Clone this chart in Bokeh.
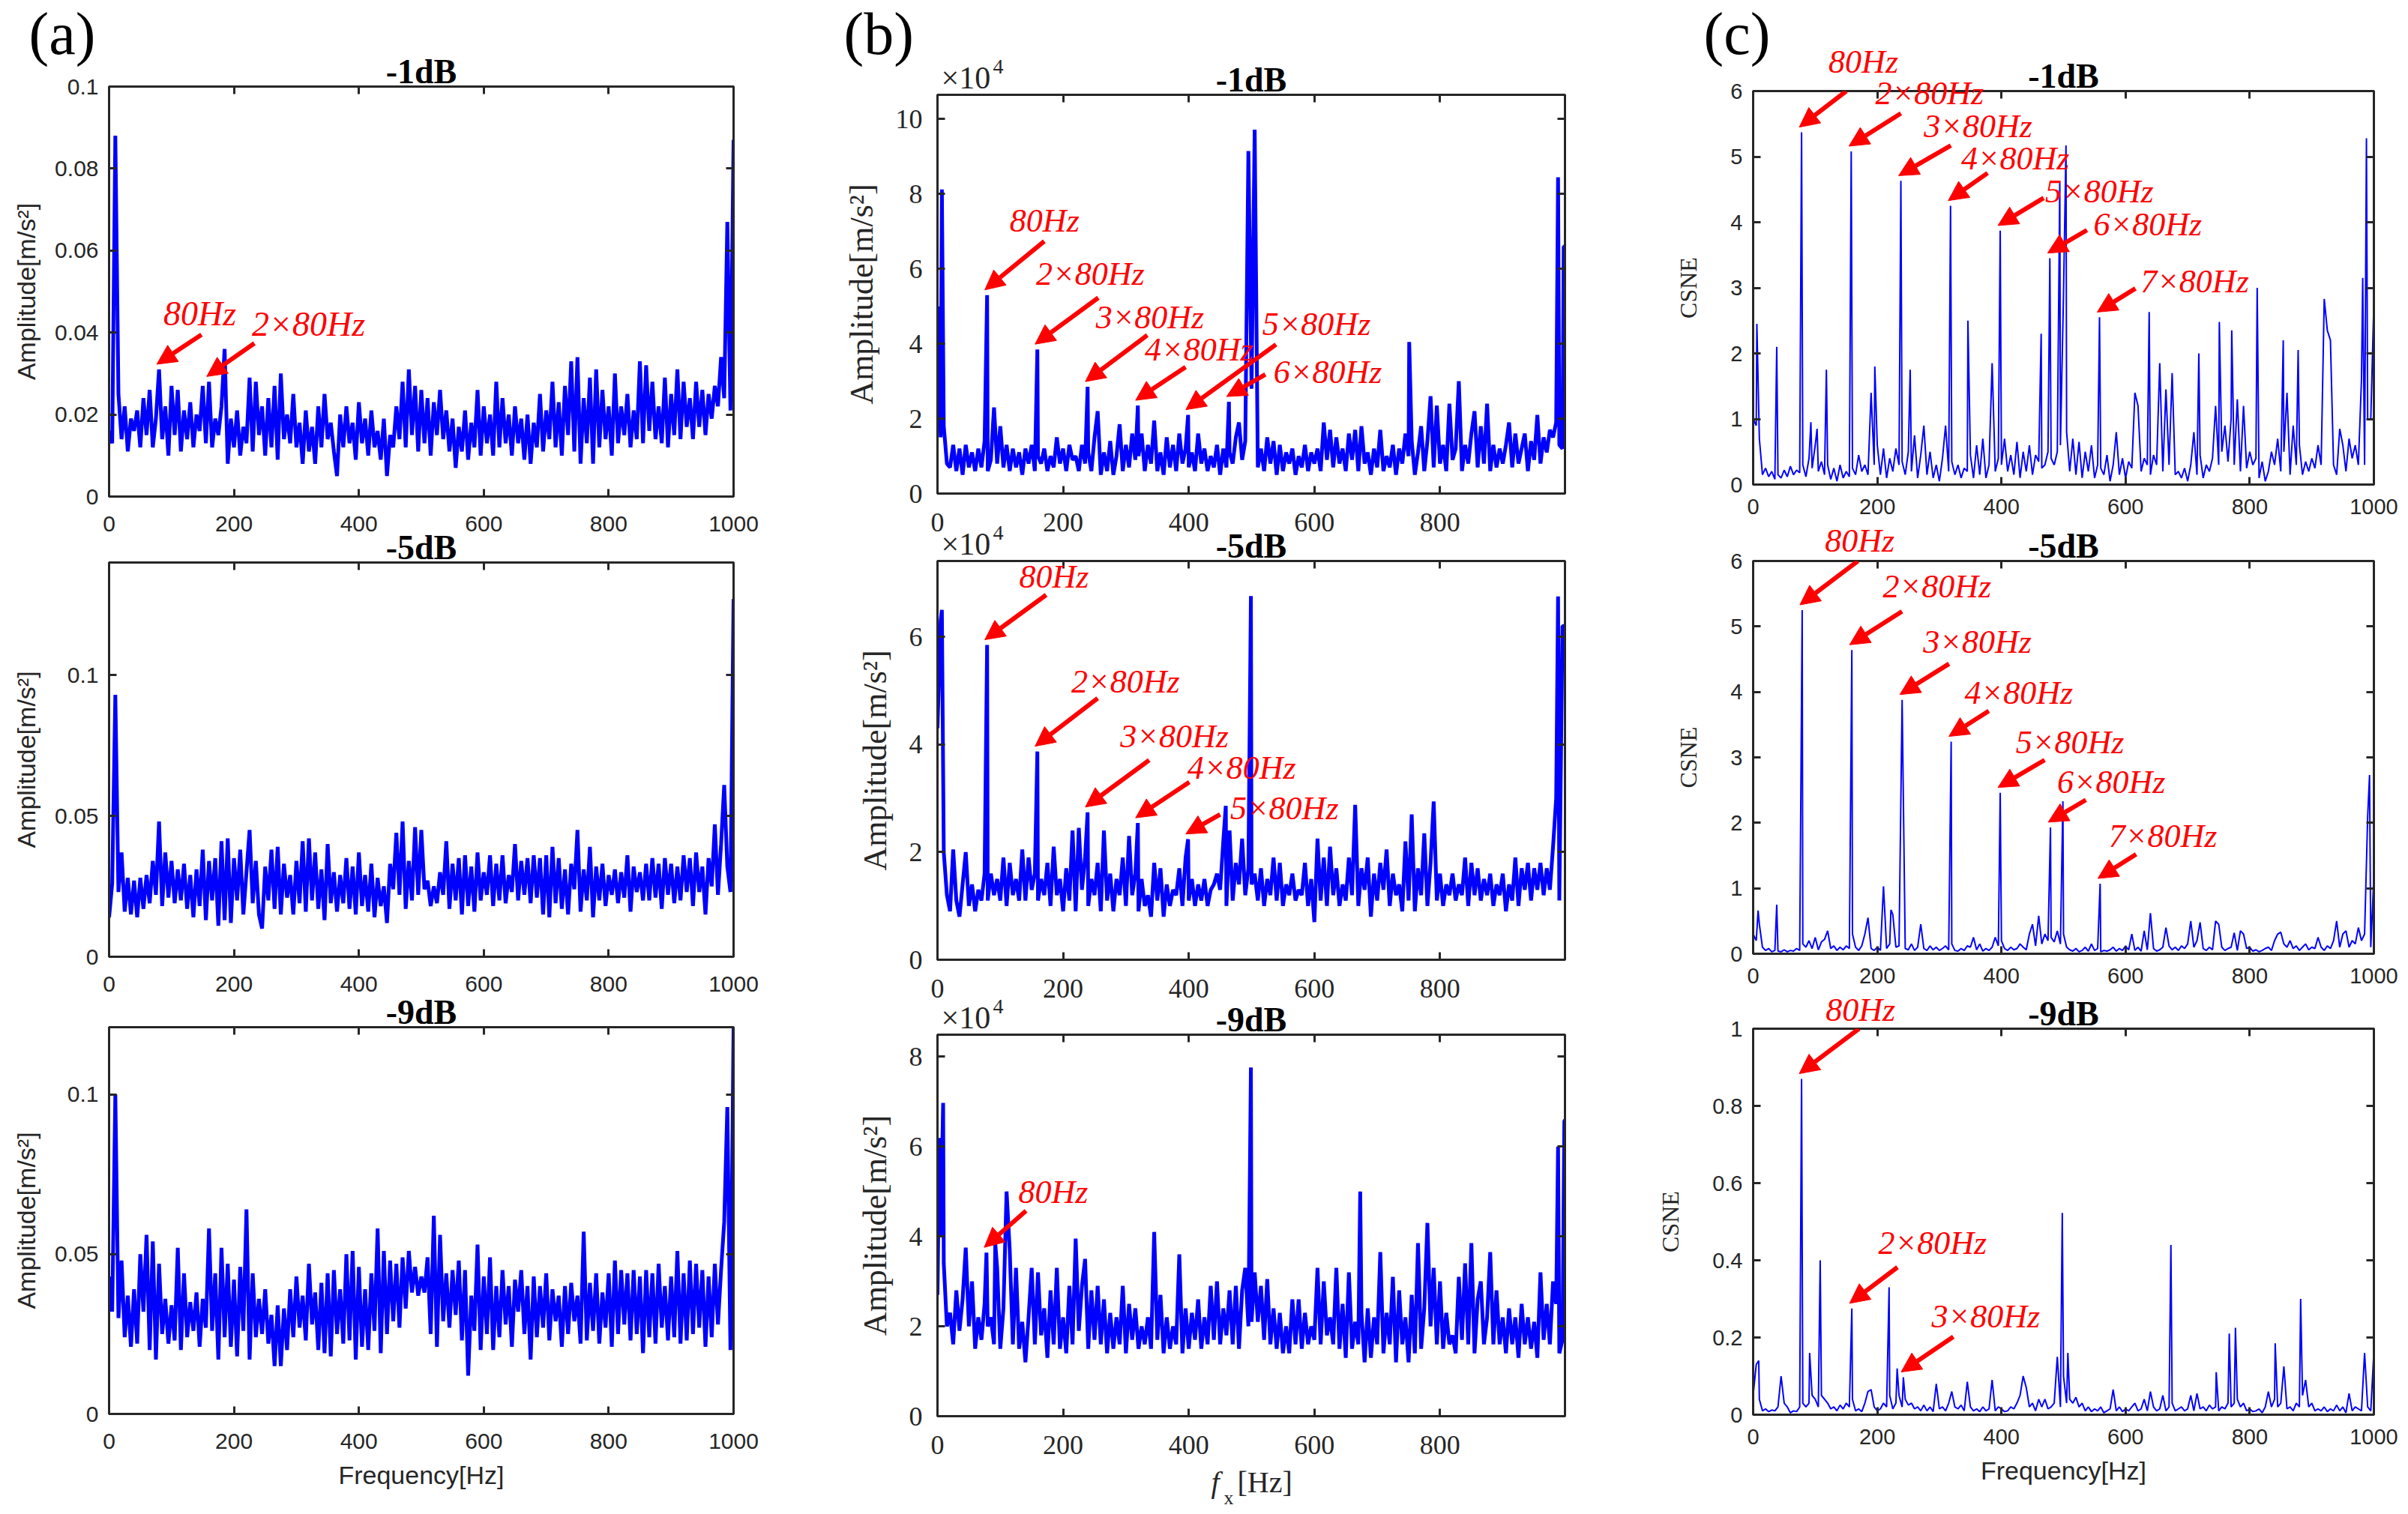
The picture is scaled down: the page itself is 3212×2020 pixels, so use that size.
from bokeh.embed import file_html
from bokeh.layouts import column, row
from bokeh.models import (Arrow, FixedTicker, Label, LinearAxis, NormalHead,
                          NumeralTickFormatter, Range1d)
from bokeh.plotting import figure
from bokeh.resources import INLINE

# ---------------- data ----------------
freq_5hz = list(range(0, 1001, 5))

# (a) raw spectrum amplitudes [m/s^2], one value every 5 Hz
a1_amp = [
    0.016, 0.013, 0.088, 0.025, 0.014, 0.022, 0.011, 0.019, 0.016, 0.021,
    0.012, 0.024, 0.015, 0.026, 0.012, 0.019, 0.031, 0.014, 0.022, 0.010,
    0.027, 0.015, 0.026, 0.011, 0.021, 0.014, 0.023, 0.012, 0.020, 0.016,
    0.027, 0.013, 0.028, 0.012, 0.019, 0.015, 0.022, 0.036, 0.008, 0.019,
    0.012, 0.021, 0.010, 0.017, 0.013, 0.029, 0.011, 0.028, 0.015, 0.022,
    0.010, 0.024, 0.012, 0.027, 0.009, 0.030, 0.014, 0.020, 0.013, 0.025,
    0.012, 0.018, 0.008, 0.021, 0.011, 0.017, 0.008, 0.022, 0.012, 0.025,
    0.014, 0.018, 0.011, 0.005, 0.020, 0.012, 0.022, 0.013, 0.018, 0.009,
    0.023, 0.013, 0.019, 0.010, 0.021, 0.012, 0.016, 0.009, 0.019, 0.005,
    0.015, 0.012, 0.022, 0.014, 0.028, 0.012, 0.031, 0.015, 0.027, 0.011,
    0.026, 0.013, 0.024, 0.010, 0.023, 0.015, 0.026, 0.014, 0.021, 0.011,
    0.019, 0.007, 0.017, 0.011, 0.021, 0.009, 0.018, 0.012, 0.026, 0.010,
    0.022, 0.013, 0.020, 0.010, 0.028, 0.012, 0.024, 0.013, 0.020, 0.010,
    0.022, 0.013, 0.019, 0.009, 0.020, 0.008, 0.018, 0.012, 0.025, 0.011,
    0.021, 0.014, 0.028, 0.012, 0.023, 0.010, 0.027, 0.015, 0.033, 0.011,
    0.034, 0.008, 0.024, 0.013, 0.029, 0.008, 0.031, 0.012, 0.026, 0.014,
    0.022, 0.010, 0.030, 0.013, 0.022, 0.015, 0.025, 0.012, 0.021, 0.014,
    0.033, 0.013, 0.032, 0.016, 0.028, 0.014, 0.022, 0.013, 0.029, 0.012,
    0.025, 0.015, 0.031, 0.014, 0.028, 0.017, 0.024, 0.014, 0.028, 0.017,
    0.026, 0.015, 0.025, 0.019, 0.027, 0.022, 0.034, 0.024, 0.067, 0.021,
    0.087]
a2_amp = [
    0.014, 0.026, 0.093, 0.023, 0.037, 0.016, 0.028, 0.015, 0.027, 0.014,
    0.028, 0.017, 0.029, 0.019, 0.034, 0.022, 0.048, 0.018, 0.037, 0.021,
    0.034, 0.019, 0.031, 0.020, 0.033, 0.017, 0.029, 0.014, 0.031, 0.018,
    0.038, 0.013, 0.034, 0.020, 0.035, 0.011, 0.041, 0.013, 0.042, 0.012,
    0.035, 0.020, 0.038, 0.015, 0.030, 0.045, 0.019, 0.034, 0.015, 0.010,
    0.032, 0.020, 0.038, 0.017, 0.039, 0.015, 0.033, 0.021, 0.029, 0.015,
    0.034, 0.019, 0.041, 0.016, 0.042, 0.020, 0.037, 0.017, 0.031, 0.013,
    0.040, 0.019, 0.030, 0.016, 0.029, 0.019, 0.035, 0.017, 0.032, 0.015,
    0.037, 0.018, 0.029, 0.016, 0.033, 0.014, 0.028, 0.018, 0.025, 0.012,
    0.033, 0.024, 0.044, 0.022, 0.048, 0.017, 0.034, 0.020, 0.046, 0.022,
    0.045, 0.024, 0.027, 0.018, 0.025, 0.019, 0.030, 0.022, 0.041, 0.017,
    0.033, 0.020, 0.035, 0.015, 0.036, 0.018, 0.032, 0.016, 0.037, 0.020,
    0.030, 0.022, 0.036, 0.018, 0.033, 0.020, 0.036, 0.019, 0.029, 0.023,
    0.040, 0.020, 0.034, 0.022, 0.035, 0.019, 0.036, 0.021, 0.035, 0.015,
    0.036, 0.014, 0.039, 0.019, 0.035, 0.017, 0.031, 0.015, 0.033, 0.024,
    0.045, 0.016, 0.031, 0.020, 0.039, 0.014, 0.032, 0.020, 0.033, 0.018,
    0.029, 0.022, 0.031, 0.019, 0.030, 0.021, 0.036, 0.016, 0.032, 0.023,
    0.030, 0.020, 0.033, 0.020, 0.035, 0.021, 0.033, 0.017, 0.035, 0.022,
    0.033, 0.019, 0.032, 0.020, 0.036, 0.023, 0.035, 0.018, 0.037, 0.023,
    0.032, 0.015, 0.035, 0.025, 0.047, 0.022, 0.040, 0.061, 0.032, 0.023,
    0.127]
a3_amp = [
    0.043, 0.032, 0.100, 0.030, 0.048, 0.024, 0.037, 0.021, 0.039, 0.022,
    0.050, 0.032, 0.056, 0.020, 0.054, 0.017, 0.047, 0.025, 0.036, 0.022,
    0.034, 0.023, 0.052, 0.020, 0.044, 0.024, 0.035, 0.026, 0.038, 0.021,
    0.036, 0.027, 0.058, 0.026, 0.044, 0.017, 0.052, 0.024, 0.047, 0.021,
    0.042, 0.018, 0.046, 0.026, 0.064, 0.017, 0.044, 0.024, 0.036, 0.025,
    0.039, 0.022, 0.031, 0.015, 0.034, 0.015, 0.033, 0.020, 0.039, 0.024,
    0.043, 0.027, 0.037, 0.023, 0.047, 0.028, 0.038, 0.020, 0.041, 0.019,
    0.044, 0.018, 0.045, 0.025, 0.039, 0.022, 0.050, 0.023, 0.051, 0.017,
    0.046, 0.021, 0.039, 0.020, 0.044, 0.026, 0.058, 0.019, 0.051, 0.025,
    0.048, 0.029, 0.047, 0.027, 0.049, 0.033, 0.051, 0.038, 0.046, 0.037,
    0.043, 0.038, 0.049, 0.025, 0.062, 0.021, 0.056, 0.029, 0.044, 0.027,
    0.045, 0.031, 0.048, 0.023, 0.045, 0.012, 0.037, 0.026, 0.053, 0.020,
    0.043, 0.025, 0.049, 0.020, 0.040, 0.024, 0.045, 0.028, 0.040, 0.021,
    0.042, 0.032, 0.045, 0.025, 0.040, 0.017, 0.043, 0.024, 0.040, 0.027,
    0.044, 0.023, 0.039, 0.029, 0.037, 0.021, 0.040, 0.025, 0.041, 0.029,
    0.037, 0.022, 0.057, 0.023, 0.041, 0.026, 0.044, 0.022, 0.038, 0.027,
    0.044, 0.021, 0.048, 0.025, 0.045, 0.028, 0.044, 0.023, 0.045, 0.025,
    0.043, 0.019, 0.045, 0.024, 0.044, 0.022, 0.047, 0.027, 0.040, 0.023,
    0.043, 0.024, 0.051, 0.022, 0.044, 0.023, 0.048, 0.025, 0.047, 0.027,
    0.045, 0.021, 0.043, 0.024, 0.047, 0.028, 0.045, 0.060, 0.096, 0.020,
    0.121]

# (b) envelope spectra [x1e4 m/s^2]: 5 Hz floor plus narrow peaks
b1_floor = [
    3.4, 1.5, 1.8, 0.8, 0.7, 1.3, 0.6, 1.2, 0.5, 1.3,
    0.7, 1.1, 0.6, 1.2, 0.7, 1.4, 0.6, 0.9, 2.3, 0.8,
    1.8, 0.7, 1.3, 0.6, 1.2, 0.7, 1.1, 0.5, 1.2, 0.8,
    1.3, 0.6, 1.0, 0.8, 1.2, 0.6, 1.0, 0.7, 1.5, 0.8,
    1.2, 0.6, 1.3, 0.9, 1.0, 0.6, 1.3, 0.8, 1.1, 0.6,
    1.5, 2.2, 0.5, 1.1, 0.6, 1.4, 0.5, 1.0, 1.85, 0.6,
    1.3, 0.7, 1.6, 0.9, 1.0, 1.6, 0.6, 1.3, 0.8, 1.95,
    0.6, 1.1, 0.5, 1.5, 0.7, 1.3, 0.6, 1.6, 0.8, 1.2,
    0.7, 1.1, 0.6, 1.6, 0.8, 1.2, 0.6, 1.0, 0.7, 1.3,
    0.5, 1.2, 0.7, 1.1, 0.8, 1.5, 1.9, 0.9, 1.4, 2.0,
    2.8, 1.5, 0.7, 1.2, 0.6, 1.5, 0.8, 1.4, 0.5, 1.3,
    0.6, 1.1, 0.8, 1.2, 0.5, 1.0, 0.7, 1.3, 0.6, 1.1,
    0.8, 1.2, 0.6, 1.9, 0.9, 1.7, 0.7, 1.5, 0.8, 1.2,
    0.6, 1.6, 0.9, 1.7, 0.6, 1.8, 0.8, 1.1, 0.5, 1.2,
    0.7, 1.7, 0.6, 1.0, 0.7, 1.3, 0.5, 1.2, 0.8, 1.6,
    1.0, 1.4, 0.5, 1.1, 1.8, 0.6, 1.4, 2.6, 0.7, 2.35,
    0.8, 1.3, 0.6, 2.4, 0.9, 1.2, 3.0, 0.6, 1.3, 0.8,
    1.6, 2.2, 0.7, 1.8, 0.8, 2.4, 0.6, 1.3, 0.7, 1.2,
    0.8, 1.3, 1.9, 0.7, 1.6, 0.8, 1.2, 1.6, 0.6, 1.4,
    0.9, 2.1, 0.8, 1.5, 1.1, 1.7, 1.5, 1.9, 1.3, 1.2,
    6.6]
b1_peak_hz = [2, 7, 79, 159, 239, 319, 399, 464, 495, 505, 751, 988, 997]
b1_peak_val = [5.0, 8.12, 5.3, 3.85, 2.85, 2.35, 2.1, 2.45, 9.15, 9.72, 4.05, 8.45, 6.6]

b2_floor = [
    4.3, 6.3, 2.0, 1.2, 0.9, 2.05, 1.1, 0.8, 1.4, 2.0,
    1.0, 1.4, 0.9, 1.3, 1.1, 1.6, 1.1, 1.6, 1.2, 1.5,
    1.1, 1.9, 1.0, 1.8, 1.2, 1.5, 1.1, 2.05, 1.1, 1.9,
    1.3, 1.6, 1.1, 1.5, 1.2, 1.8, 1.0, 2.1, 1.2, 1.5,
    0.9, 1.7, 1.1, 2.4, 0.9, 2.45, 1.3, 1.9, 1.0, 1.5,
    1.2, 1.8, 0.9, 2.4, 1.1, 1.6, 0.9, 1.5, 1.2, 1.9,
    1.0, 2.3, 1.2, 1.6, 0.9, 1.5, 1.0, 1.2, 0.8, 1.8,
    1.1, 1.7, 0.8, 1.4, 1.0, 1.3, 1.2, 1.7, 1.0, 1.9,
    1.1, 1.5, 1.0, 1.4, 1.1, 1.5, 1.0, 1.3, 1.4, 1.6,
    1.3, 2.2, 1.0, 2.4, 1.1, 1.8, 1.4, 2.25, 1.2, 1.7,
    1.4, 1.6, 1.1, 1.7, 1.0, 1.5, 1.2, 1.9, 1.1, 1.8,
    1.0, 1.4, 1.2, 1.6, 1.1, 1.3, 1.2, 1.8, 1.0, 1.5,
    0.7, 2.25, 1.1, 1.9, 1.0, 2.1, 1.2, 1.7, 1.0, 1.4,
    1.1, 1.9, 1.2, 2.88, 1.0, 1.7, 1.3, 1.9, 0.8, 1.6,
    1.1, 1.8, 1.3, 2.05, 1.0, 1.6, 1.2, 1.4, 0.9, 2.2,
    1.1, 2.7, 0.9, 1.7, 1.2, 2.35, 1.0, 1.8, 2.94, 1.1,
    1.6, 1.0, 1.4, 1.2, 1.6, 1.1, 1.4, 1.2, 1.9, 1.0,
    1.8, 1.2, 1.7, 1.1, 1.5, 1.2, 1.6, 1.0, 1.4, 1.2,
    1.6, 0.9, 1.4, 1.1, 1.9, 1.0, 1.7, 1.3, 1.8, 1.1,
    1.7, 1.3, 1.8, 1.2, 1.7, 1.3, 2.1, 3.0, 1.1, 6.2,
    6.2]
b2_peak_hz = [7, 79, 159, 239, 319, 399, 459, 499, 988]
b2_peak_val = [6.5, 5.85, 3.87, 2.74, 2.54, 2.24, 2.86, 6.76, 6.75]

b3_floor = [
    2.7, 4.0, 3.4, 2.0, 2.3, 1.6, 2.8, 1.9, 2.6, 3.75,
    2.0, 3.0, 1.5, 2.2, 1.7, 2.5, 2.0, 2.2, 1.6, 3.3,
    1.5, 2.4, 5.0, 3.7, 1.6, 3.3, 1.5, 2.1, 1.2, 2.2,
    3.3, 1.6, 3.2, 1.8, 2.4, 1.3, 2.8, 1.6, 3.3, 1.5,
    2.2, 1.4, 2.9, 1.6, 3.95, 1.9, 2.9, 3.5, 1.5, 2.8,
    1.7, 2.9, 1.6, 2.6, 1.4, 2.3, 1.5, 2.2, 1.6, 2.9,
    1.4, 2.5, 1.7, 2.4, 1.5, 2.0, 1.6, 2.2, 1.5, 4.1,
    1.7, 2.7, 1.4, 2.2, 1.5, 2.0, 1.6, 3.6, 1.4, 2.4,
    1.5, 2.3, 1.7, 2.6, 1.5, 2.2, 1.6, 2.9, 1.7, 3.0,
    1.6, 2.4, 1.8, 2.8, 1.6, 2.9, 1.5, 2.8, 3.3, 2.0,
    2.1, 3.2, 2.1, 2.9, 1.7, 3.05, 1.6, 2.4, 1.5, 2.3,
    1.4, 2.0, 1.4, 2.6, 1.6, 2.6, 1.5, 2.3, 1.6, 2.0,
    1.7, 3.3, 1.6, 3.0, 1.8, 2.2, 1.6, 3.3, 1.5, 2.5,
    1.3, 3.2, 1.5, 2.1, 1.6, 2.3, 1.2, 2.4, 1.3, 2.2,
    1.6, 3.65, 1.4, 2.3, 1.6, 3.1, 1.2, 2.8, 1.6, 2.2,
    1.2, 2.7, 1.4, 3.85, 1.5, 2.4, 4.3, 2.0, 3.3, 1.6,
    3.0, 1.5, 2.3, 1.6, 1.8, 1.4, 3.1, 1.7, 3.4, 1.6,
    3.85, 1.4, 2.6, 3.0, 1.6, 2.2, 3.65, 1.6, 2.8, 1.6,
    2.2, 1.4, 2.4, 1.6, 2.2, 1.3, 2.5, 1.6, 2.2, 1.5,
    2.1, 1.3, 3.2, 1.7, 2.5, 1.6, 3.0, 2.5, 1.4, 1.7,
    6.6]
b3_peak_hz = [3, 9, 78, 92, 499, 673, 988, 998]
b3_peak_val = [6.19, 6.97, 3.64, 3.84, 7.76, 5.0, 6.0, 6.57]

# (c) CSNE: 5 Hz floor plus narrow peaks
c1_floor = [
    1.0, 0.9, 0.7, 0.15, 0.25, 0.12, 0.2, 0.08, 0.15, 0.1,
    0.22, 0.12, 0.28, 0.15, 0.22, 0.18, 0.3, 0.12, 0.4, 0.25,
    0.6, 0.2, 0.35, 0.15, 0.3, 0.08, 0.25, 0.05, 0.3, 0.1,
    0.2, 0.12, 0.25, 0.15, 0.45, 0.2, 0.3, 0.15, 1.4, 0.3,
    0.6, 0.15, 0.55, 0.1, 0.4, 0.2, 0.55, 0.3, 0.35, 0.15,
    0.5, 0.2, 0.75, 0.1, 0.45, 0.9, 0.15, 0.5, 0.1, 0.3,
    0.05, 0.4, 0.9, 0.2, 0.35, 0.15, 0.3, 0.1, 0.25, 0.2,
    0.45, 0.1, 0.6, 0.15, 0.7, 0.1, 0.3, 1.85, 0.2, 0.4,
    0.3, 0.7, 0.2, 0.45, 0.15, 0.65, 0.1, 0.5, 0.2, 0.6,
    0.15, 0.45, 0.35, 0.25, 0.3, 0.5, 0.4, 0.3, 0.5, 0.6,
    2.9, 0.8, 0.2, 0.7, 0.15, 0.65, 0.1, 0.5, 0.2, 0.6,
    0.1, 0.3, 0.25, 0.15, 0.45, 0.05, 0.3, 0.8, 0.15, 0.4,
    0.1, 0.35, 0.25, 1.4, 1.2, 0.2, 0.4, 0.3, 0.15, 0.45,
    0.3, 1.85, 0.2, 1.45, 0.3, 1.7, 0.15, 0.2, 0.1, 0.25,
    0.05, 0.3, 0.8, 0.15, 0.45, 0.1, 0.3, 0.2, 0.4, 1.2,
    0.3, 0.5, 0.9, 0.35, 1.0, 0.3, 1.3, 0.2, 1.2, 0.25,
    0.5, 0.3, 0.4, 0.1, 0.35, 0.05, 0.2, 0.5, 0.3, 0.7,
    0.2, 0.5, 1.4, 0.15, 0.9, 0.3, 0.6, 0.15, 0.35, 0.2,
    0.4, 0.25, 0.6, 0.3, 0.5, 2.35, 2.2, 0.3, 0.15, 0.85,
    0.6, 0.2, 0.7, 0.4, 0.6, 0.3, 1.6, 0.3, 1.0, 1.0,
    2.8]
c1_peak_hz = [6, 38, 78, 93, 103, 118, 158, 196, 238, 253, 318, 346, 398, 464,
              478, 494, 504, 558, 638, 718, 751, 771, 812, 854, 878, 920, 982, 988]
c1_peak_val = [2.45, 2.1, 5.37, 0.95, 0.85, 1.75, 5.08, 1.8, 4.63, 1.75, 4.25, 2.5,
               3.87, 2.3, 3.45, 4.62, 5.17, 2.55, 2.63, 2.0, 2.48, 2.35, 3.0, 2.2,
               2.05, 2.83, 3.15, 5.28]

c2_floor = [
    0.3, 0.2, 0.45, 0.1, 0.05, 0.08, 0.03, 0.05, 0.04, 0.03,
    0.06, 0.03, 0.05, 0.04, 0.08, 0.05, 0.15, 0.1, 0.2, 0.08,
    0.25, 0.06, 0.18, 0.22, 0.35, 0.08, 0.12, 0.05, 0.1, 0.06,
    0.12, 0.08, 0.3, 0.1, 0.05, 0.12, 0.3, 0.55, 0.08, 0.05,
    0.1, 0.05, 0.12, 0.08, 0.15, 0.6, 0.1, 0.12, 0.2, 0.08,
    0.06, 0.15, 0.05, 0.1, 0.45, 0.08, 0.05, 0.12, 0.06, 0.1,
    0.05, 0.08, 0.12, 0.06, 0.15, 0.05, 0.04, 0.08, 0.05, 0.12,
    0.1, 0.25, 0.06, 0.15, 0.04, 0.08, 0.05, 0.1, 0.25, 0.12,
    0.2, 0.08, 0.05, 0.1, 0.06, 0.08, 0.15, 0.1, 0.06, 0.3,
    0.45, 0.12, 0.58, 0.15, 0.3, 0.2, 0.25, 0.18, 0.35, 0.15,
    0.3, 0.1, 0.06, 0.04, 0.08, 0.03, 0.05, 0.1, 0.04, 0.15,
    0.05, 0.08, 0.03, 0.05, 0.04, 0.06, 0.1, 0.04, 0.08, 0.05,
    0.12, 0.06, 0.3, 0.05, 0.1, 0.04, 0.35, 0.06, 0.05, 0.08,
    0.04, 0.06, 0.1, 0.4, 0.12, 0.06, 0.1, 0.05, 0.12, 0.08,
    0.15, 0.5, 0.1, 0.2, 0.48, 0.08, 0.05, 0.1, 0.06, 0.5,
    0.45, 0.1, 0.05, 0.08, 0.1, 0.32, 0.05, 0.35, 0.3, 0.08,
    0.1, 0.04, 0.06, 0.03, 0.05, 0.08, 0.1, 0.05, 0.2, 0.3,
    0.33, 0.15, 0.1, 0.2, 0.08, 0.12, 0.05, 0.1, 0.15, 0.06,
    0.1, 0.08, 0.25, 0.1, 0.05, 0.12, 0.08, 0.2, 0.5, 0.1,
    0.3, 0.35, 0.1, 0.2, 0.15, 0.4, 0.2, 0.3, 2.1, 0.1,
    1.2]
c2_peak_hz = [8, 38, 79, 159, 210, 222, 240, 319, 398, 479, 499, 559, 640, 993]
c2_peak_val = [0.66, 0.75, 5.25, 4.64, 1.03, 0.67, 3.88, 3.24, 2.46, 1.93, 2.33,
               1.07, 0.62, 2.73]

c3_floor = [
    0.05, 0.13, 0.04, 0.01, 0.015, 0.008, 0.012, 0.01, 0.02, 0.1,
    0.03, 0.02, 0.005, 0.01, 0.008, 0.02, 0.03, 0.02, 0.03, 0.05,
    0.04, 0.02, 0.05, 0.04, 0.03, 0.015, 0.02, 0.01, 0.025, 0.015,
    0.03, 0.02, 0.04, 0.01, 0.015, 0.008, 0.03, 0.06, 0.065, 0.02,
    0.01, 0.015, 0.03, 0.02, 0.05, 0.015, 0.03, 0.05, 0.02, 0.04,
    0.025, 0.03, 0.015, 0.02, 0.01, 0.025, 0.01, 0.02, 0.008, 0.08,
    0.015, 0.02, 0.01, 0.03, 0.06, 0.02, 0.015, 0.025, 0.01, 0.085,
    0.02, 0.01, 0.015, 0.008, 0.02, 0.01, 0.015, 0.09, 0.01, 0.02,
    0.015, 0.008, 0.01, 0.02, 0.015, 0.03, 0.05, 0.1, 0.07, 0.02,
    0.03, 0.01, 0.04, 0.02, 0.04, 0.015, 0.02, 0.03, 0.15, 0.02,
    0.1, 0.03, 0.04, 0.03, 0.045, 0.02, 0.03, 0.01, 0.02, 0.008,
    0.015, 0.01, 0.02, 0.005, 0.01, 0.015, 0.065, 0.01, 0.02, 0.008,
    0.015, 0.01, 0.02, 0.03, 0.01, 0.015, 0.04, 0.01, 0.06, 0.02,
    0.01, 0.015, 0.05, 0.01, 0.02, 0.03, 0.01, 0.015, 0.02, 0.01,
    0.015, 0.05, 0.01, 0.055, 0.015, 0.02, 0.01, 0.025, 0.015, 0.02,
    0.01, 0.02, 0.015, 0.03, 0.02, 0.03, 0.04, 0.02, 0.03, 0.01,
    0.015, 0.008, 0.01, 0.015, 0.005, 0.02, 0.06, 0.02, 0.04, 0.02,
    0.03, 0.125, 0.015, 0.02, 0.01, 0.03, 0.02, 0.05, 0.09, 0.02,
    0.03, 0.01, 0.015, 0.01, 0.02, 0.008, 0.015, 0.01, 0.025, 0.01,
    0.02, 0.005, 0.055, 0.01, 0.02, 0.015, 0.01, 0.16, 0.02, 0.01,
    0.165]
c3_peak_hz = [9, 78, 91, 108, 159, 219, 232, 242, 498, 507, 673, 746, 767, 777, 841, 882]
c3_peak_val = [0.14, 0.87, 0.16, 0.40, 0.275, 0.33, 0.12, 0.097, 0.523, 0.16, 0.44,
               0.11, 0.21, 0.225, 0.185, 0.30]

# ---------------- styling ----------------
BLUE = "#0000FF"
RED = "#FF0000"
DARK = "#262626"
SERIF = "Liberation Serif"
SANS = "Liberation Sans"
BASELINE_FIX = 0.33  # labels sit ~1/3 em low with an alphabetic baseline


def merge(floor, peak_hz, peak_val):
    pts = dict(zip(freq_5hz, floor))
    pts.update(zip(peak_hz, peak_val))
    xs = sorted(pts)
    return xs, [pts[x] for x in xs]


def frame_geom(cfg):
    w, h = cfg["size"]
    left, right, top, bottom = cfg["border"]
    return left, top, w - left - right, h - top - bottom


def make_panel(cfg):
    w, h = cfg["size"]
    left, right, top, bottom = cfg["border"]
    _, _, fw, fh = frame_geom(cfg)
    xmax, ymax = cfg["xmax"], cfg["ymax"]
    xs, ys = cfg["curve"]

    p = figure(width=w, height=h, x_range=Range1d(0, xmax), y_range=Range1d(0, ymax),
               min_border_left=left, min_border_right=right,
               min_border_top=top, min_border_bottom=bottom,
               toolbar_location=None, output_backend="svg", title_location=None,
               background_fill_color="white", border_fill_color="white")
    p.grid.visible = False
    p.outline_line_color = DARK
    p.outline_line_width = 3

    for ax in (p.xaxis[0], p.yaxis[0]):
        ax.major_tick_in = 10
        ax.major_tick_out = 0
        ax.minor_tick_line_color = None
        ax.axis_line_color = DARK
        ax.axis_line_width = 3
        ax.major_tick_line_color = DARK
        ax.major_tick_line_width = 3
        ax.major_label_text_font = cfg["tick_font"]
        ax.major_label_text_font_size = "%dpx" % cfg["tick_px"]
        ax.major_label_text_color = DARK
    p.xaxis.ticker = FixedTicker(ticks=cfg["xticks"])
    p.yaxis.ticker = FixedTicker(ticks=cfg["yticks"])
    p.xaxis.formatter = NumeralTickFormatter(format="0")
    p.yaxis.formatter = NumeralTickFormatter(format=cfg["yfmt"])
    p.xaxis.major_label_standoff = cfg["xstand"]
    p.yaxis.major_label_standoff = cfg["ystand"]

    p.yaxis.axis_label = cfg["ylabel"]
    p.yaxis.axis_label_text_font = cfg["ylabel_font"]
    p.yaxis.axis_label_text_font_size = "%dpx" % cfg["ylabel_px"]
    p.yaxis.axis_label_text_font_style = "normal"
    p.yaxis.axis_label_text_color = DARK
    p.yaxis.axis_label_standoff = cfg["ylabel_stand"]
    if cfg.get("xlabel"):
        p.xaxis.axis_label = cfg["xlabel"]
        p.xaxis.axis_label_text_font = SANS
        p.xaxis.axis_label_text_font_size = "34px"
        p.xaxis.axis_label_text_font_style = "normal"
        p.xaxis.axis_label_text_color = DARK
        p.xaxis.axis_label_standoff = cfg["xlabel_stand"]

    # box ticks on top and right, MATLAB style (no labels there)
    for loc, ticks in (("above", cfg["xticks"]), ("right", cfg["yticks"])):
        ax = LinearAxis(ticker=FixedTicker(ticks=ticks), major_label_text_font_size="6px",
                        major_label_text_color=None, major_label_standoff=0,
                        major_tick_in=10, major_tick_out=0,
                        minor_tick_line_color=None, axis_line_color=DARK,
                        axis_line_width=3, major_tick_line_color=DARK,
                        major_tick_line_width=3)
        p.add_layout(ax, loc)

    p.line(xs, ys, line_color=BLUE, line_width=cfg["lw"])

    lookup = dict(zip(xs, ys))
    for text, hz, tail_x, tail_y, lab_x, lab_y in cfg["notes"]:
        tip_x = hz - 3 * xmax / fw
        tip_y = lookup[hz] + 7 * ymax / fh
        if tail_y > ymax:  # keep the shaft inside the box
            t = (ymax - tip_y) / (tail_y - tip_y)
            tail_x, tail_y = tip_x + t * (tail_x - tip_x), ymax
        p.add_layout(Arrow(end=NormalHead(size=26, fill_color=RED, line_color=RED),
                           x_start=tail_x, y_start=tail_y, x_end=tip_x, y_end=tip_y,
                           line_color=RED, line_width=6))
    return p


def text_items(cfg, x_off, y_off):
    """Texts around the frames, in page pixels (x right, y down, y = baseline)."""
    left, top, fw, fh = frame_geom(cfg)
    left += x_off
    top += y_off
    items = [(cfg["title"], left + fw / 2, top - 5, SERIF, 46, "bold", "black", "center")]
    if cfg.get("letter"):
        text, lx, ly = cfg["letter"]
        items.append((text, left + lx, top + ly, SERIF, 80, "normal", "black", "left"))
    if cfg.get("mult"):
        items.append(("×10", left + 5, top - 9, SERIF, 42, "normal", DARK, "left"))
        items.append(("4", left + 74, top - 28, SERIF, 28, "normal", DARK, "left"))
    if cfg.get("fx_label"):
        items.append(("f", left + 365, top + fh + 101, SERIF, 40, "italic", DARK, "left"))
        items.append(("x", left + 382, top + fh + 118, SERIF, 26, "normal", DARK, "left"))
        items.append(("[Hz]", left + 400, top + fh + 101, SERIF, 40, "normal", DARK, "left"))
    for text, hz, tail_x, tail_y, lab_x, lab_y in cfg["notes"]:
        cx = left + lab_x / cfg["xmax"] * fw
        cy = top + (1 - lab_y / cfg["ymax"]) * fh
        items.append((text, cx, cy, SERIF, cfg["note_px"], "italic", RED, "left"))
    return items


a_common = dict(xmax=1000, xticks=[0, 200, 400, 600, 800, 1000], tick_font=SANS,
                tick_px=30, xstand=26, ystand=14, ylabel="Amplitude[m/s²]",
                ylabel_font=SANS, ylabel_px=34, ylabel_stand=16, lw=5, note_px=46,
                yfmt="0.[00]")
b_common = dict(xmax=999, xticks=[0, 200, 400, 600, 800], tick_font=SERIF,
                tick_px=36, xstand=26, ystand=20, ylabel="Amplitude[m/s²]",
                ylabel_font=SERIF, ylabel_px=44, ylabel_stand=18, lw=5, note_px=44,
                yfmt="0", mult=True)
c_common = dict(xmax=1000, xticks=[0, 200, 400, 600, 800, 1000], tick_font=SANS,
                tick_px=29, xstand=19, ystand=14, ylabel="CSNE", ylabel_font=SERIF,
                ylabel_px=32, ylabel_stand=35, lw=2, note_px=44)

column_cfgs = [
    [
        dict(a_common, curve=(freq_5hz, a1_amp), size=(1108, 724),
             border=(145, 130, 115, 62), ymax=0.1,
             yticks=[0, 0.02, 0.04, 0.06, 0.08, 0.1], title="-1dB",
             letter=("(a)", -107, -44),
             notes=[("80Hz", 80, 148, 0.0395, 87, 0.0419),
                    ("2×80Hz", 160, 232.7, 0.0374, 228.6, 0.0393)]),
        dict(a_common, curve=(freq_5hz, a2_amp), size=(1108, 614),
             border=(145, 130, 26, 62), ymax=0.14, yticks=[0, 0.05, 0.1],
             title="-5dB", notes=[]),
        dict(a_common, curve=(freq_5hz, a3_amp), size=(1108, 674),
             border=(145, 130, 32, 126), ymax=0.121, yticks=[0, 0.05, 0.1],
             title="-9dB", xlabel="Frequency[Hz]", xlabel_stand=13, notes=[]),
    ],
    [
        dict(b_common, curve=merge(b1_floor, b1_peak_hz, b1_peak_val),
             size=(1080, 725), border=(142, 101, 126, 67), ymax=10.65,
             yticks=[0, 2, 4, 6, 8, 10], title="-1dB", letter=("(b)", -125, -55),
             notes=[("80Hz", 79, 170, 6.74, 115, 7.0),
                    ("2×80Hz", 159, 256, 5.23, 157, 5.57),
                    ("3×80Hz", 239, 334, 4.23, 252, 4.41),
                    ("4×80Hz", 319, 395, 3.38, 330, 3.56),
                    ("5×80Hz", 399, 539, 3.98, 517, 4.23),
                    ("6×80Hz", 464, 522, 3.18, 535, 2.96)]),
        dict(b_common, curve=merge(b2_floor, b2_peak_hz, b2_peak_val),
             size=(1080, 622), border=(142, 101, 23, 67), ymax=7.41,
             yticks=[0, 2, 4, 6], title="-5dB",
             notes=[("80Hz", 79, 173, 6.78, 130, 6.91),
                    ("2×80Hz", 159, 255, 4.86, 213, 4.97),
                    ("3×80Hz", 239, 337, 3.71, 291, 3.95),
                    ("4×80Hz", 319, 401, 3.30, 398, 3.36),
                    ("5×80Hz", 399, 450, 2.70, 466, 2.61)]),
        dict(b_common, curve=merge(b3_floor, b3_peak_hz, b3_peak_val),
             size=(1080, 665), border=(142, 101, 33, 123), ymax=8.49,
             yticks=[0, 2, 4, 6, 8], title="-9dB", fx_label=True,
             notes=[("80Hz", 78, 141, 4.57, 129, 4.75)]),
    ],
    [
        dict(c_common, curve=merge(c1_floor, c1_peak_hz, c1_peak_val),
             size=(1016, 701), border=(150, 38, 121, 55), ymax=6,
             yticks=[0, 1, 2, 3, 4, 5, 6], yfmt="0", title="-1dB",
             letter=("(c)", -66, -50),
             notes=[("80Hz", 78, 172, 6.16, 121.5, 6.28),
                    ("2×80Hz", 158, 238, 5.66, 197, 5.80),
                    ("3×80Hz", 238, 318.5, 5.17, 275, 5.30),
                    ("4×80Hz", 318, 377.7, 4.75, 335, 4.80),
                    ("5×80Hz", 398, 468, 4.37, 470.4, 4.30),
                    ("6×80Hz", 478, 537.8, 3.88, 548.4, 3.80),
                    ("7×80Hz", 558, 615.8, 2.99, 624, 2.93)]),
        dict(c_common, curve=merge(c2_floor, c2_peak_hz, c2_peak_val),
             size=(1016, 626), border=(150, 38, 47, 55), ymax=6,
             yticks=[0, 1, 2, 3, 4, 5, 6], yfmt="0", title="-5dB",
             notes=[("80Hz", 79, 171.5, 6.02, 115.7, 6.14),
                    ("2×80Hz", 159, 239.8, 5.23, 209, 5.44),
                    ("3×80Hz", 240, 315.6, 4.43, 274, 4.60),
                    ("4×80Hz", 319, 379.7, 3.71, 340.5, 3.82),
                    ("5×80Hz", 398, 469.6, 2.96, 423, 3.06),
                    ("6×80Hz", 479, 536, 2.35, 489.6, 2.46),
                    ("7×80Hz", 559, 617, 1.52, 572.9, 1.63)]),
        dict(c_common, curve=merge(c3_floor, c3_peak_hz, c3_peak_val),
             size=(1016, 685), border=(150, 38, 45, 125), ymax=1,
             yticks=[0, 0.2, 0.4, 0.6, 0.8, 1], yfmt="0.[0]", title="-9dB",
             xlabel="Frequency[Hz]", xlabel_stand=13,
             notes=[("80Hz", 78, 172.5, 1.0025, 116.7, 1.021),
                    ("2×80Hz", 159, 232.5, 0.382, 201.7, 0.4155),
                    ("3×80Hz", 242, 322.5, 0.202, 287.5, 0.227)]),
    ],
]

columns, items, x_off = [], [], 0
for cfgs in column_cfgs:
    y_off = 0
    panels = []
    for cfg in cfgs:
        panels.append(make_panel(cfg))
        items += text_items(cfg, x_off, y_off)
        y_off += cfg["size"][1]
    columns.append(column(*panels))
    x_off += cfgs[0]["size"][0]

page_w = x_off
page_h = max(sum(c["size"][1] for c in cfgs) for cfgs in column_cfgs)

# transparent text layer laid over the whole grid
ov = figure(width=page_w, height=page_h, x_range=Range1d(0, page_w),
            y_range=Range1d(0, page_h), min_border=0, toolbar_location=None,
            x_axis_location=None, y_axis_location=None, title_location=None,
            output_backend="svg", background_fill_color=None, border_fill_color=None,
            margin=(-page_h, 0, 0, 0))
ov.grid.visible = False
ov.outline_line_color = None
for text, cx, cy, font, size, style, color, align in items:
    ov.add_layout(Label(x=cx, y=page_h - (cy - BASELINE_FIX * size), text=text,
                        text_align=align, text_baseline="alphabetic", text_font=font,
                        text_font_style=style, text_font_size="%dpx" % size,
                        text_color=color))

layout = column(row(*columns), ov)
open("out.html", "w").write(file_html(layout, INLINE))
